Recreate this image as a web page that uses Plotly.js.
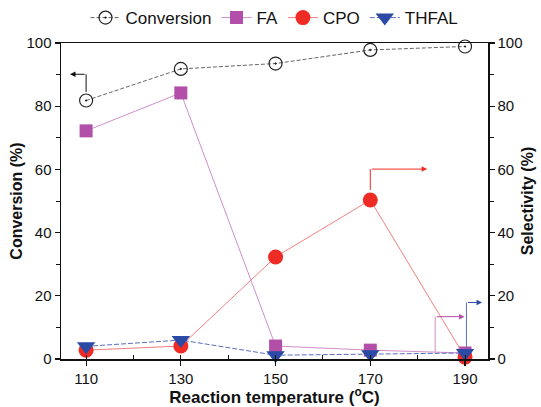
<!DOCTYPE html>
<html>
<head>
<meta charset="utf-8">
<script src="https://cdn.plot.ly/plotly-3.0.1.min.js"></script>
<style>html,body{margin:0;padding:0;background:#fff;}#chart{width:541px;height:407px;}</style>
</head>
<body>
<div id="chart"></div>
<script>
const temperature = [110, 130, 150, 170, 190];
const conversion = [81.8, 91.8, 93.5, 97.8, 98.9];
const selFA = [72.2, 84.2, 4.1, 2.8, 1.9];
const selCPO = [2.8, 4.1, 32.3, 50.3, 0.6];
const selTHFAL = [4.0, 6.0, 1.2, 1.5, 1.9];
const xTicks = [110, 130, 150, 170, 190];
const yTicks = [0, 20, 40, 60, 80, 100];

const font = 'Arial, "Liberation Sans", sans-serif';

const traces = [
  {x: temperature, y: conversion, name: 'Conversion', mode: 'lines+markers', yaxis: 'y',
   line: {color: '#666666', width: 1, dash: '4px,2px'},
   marker: {symbol: 'circle-open-dot', size: 13, color: '#222222', line: {width: 1.2}}, cliponaxis: false},
  {x: temperature, y: selFA, name: 'FA', mode: 'lines+markers', yaxis: 'y2',
   line: {color: '#cf8fcb', width: 1},
   marker: {symbol: 'square', size: 13, color: '#b24fa8'}, cliponaxis: false},
  {x: temperature, y: selCPO, name: 'CPO', mode: 'lines+markers', yaxis: 'y2',
   line: {color: '#f28080', width: 1},
   marker: {symbol: 'circle', size: 15, color: '#ee2b24'}, cliponaxis: false},
  {x: temperature, y: selTHFAL, name: 'THFAL', mode: 'lines+markers', yaxis: 'y2',
   line: {color: '#5a6fc0', width: 1, dash: '5px,2px'},
   marker: {symbol: 'triangle-down', size: 16, color: '#2a4aa6'}, cliponaxis: false}
];

function vline(x, y0, y1, color, yref) {
  return {type: 'line', xref: 'x', yref: yref, x0: x, x1: x, y0: y0, y1: y1, line: {color: color, width: 1}};
}
function harrow(x0, x1, y, color, yref) {
  return {x: x1, y: y, ax: x0, ay: y, xref: 'x', yref: yref, axref: 'x', ayref: yref,
          showarrow: true, arrowhead: 2, arrowsize: 1.1, arrowwidth: 1, arrowcolor: color, text: ''};
}

const layout = {
  width: 541, height: 407,
  margin: {l: 61, r: 53, t: 43, b: 48, autoexpand: false},
  paper_bgcolor: '#ffffff', plot_bgcolor: '#ffffff',
  font: {family: font, size: 15, color: '#111111'},
  showlegend: true,
  legend: {orientation: 'h', x: 0.5, xanchor: 'center', y: 1.136, yanchor: 'top',
           font: {family: font, size: 17, color: '#111'}, itemwidth: 30, tracegroupgap: 0, bgcolor: 'rgba(0,0,0,0)'},
  xaxis: {range: [104.7, 194.85], tickvals: xTicks, ticktext: xTicks.map(String),
          showline: true, linecolor: '#111', linewidth: 1.5, mirror: true,
          ticks: 'outside', ticklen: 5, tickwidth: 1.2, tickcolor: '#111',
          minor: {dtick: 10, ticks: 'inside', ticklen: 4, tickwidth: 1, tickcolor: '#111', showgrid: false},
          showgrid: false, zeroline: false,
          title: {text: '<b>Reaction temperature (<sup>o</sup>C)</b>', font: {size: 17, family: font}, standoff: 4}},
  yaxis: {range: [0, 100], tickvals: yTicks, showline: true, linecolor: '#111', linewidth: 1.5,
          ticks: 'outside', ticklen: 5, tickwidth: 1.2, tickcolor: '#111',
          minor: {dtick: 10, ticks: 'outside', ticklen: 4, tickwidth: 1, tickcolor: '#111', showgrid: false},
          showgrid: false, zeroline: false,
          title: {text: '<b>Conversion (%)</b>', font: {size: 16, family: font}, standoff: 0}},
  yaxis2: {range: [0, 100], tickvals: yTicks, overlaying: 'y', side: 'right', showline: true,
           linecolor: '#111', linewidth: 1.5,
           ticks: 'outside', ticklen: 5, tickwidth: 1.2, tickcolor: '#111',
           minor: {dtick: 10, ticks: 'outside', ticklen: 4, tickwidth: 1, tickcolor: '#111', showgrid: false},
           showgrid: false, zeroline: false,
           title: {text: '<b>Selectivity (%)</b>', font: {size: 16, family: font}, standoff: 0}},
  shapes: [
    vline(110, 84.5, 90.1, '#111', 'y'),
    vline(170, 53.5, 60.1, '#ee2b24', 'y2'),
    vline(183.7, 2.3, 13.4, '#cf8fcb', 'y2'),
    vline(190.3, 3.5, 17.9, '#5a6fc0', 'y2')
  ],
  annotations: [
    harrow(110, 106.6, 90.1, '#111', 'y'),
    harrow(170, 182, 60.1, '#ee2b24', 'y2'),
    harrow(183.7, 189.9, 13.4, '#b24fa8', 'y2'),
    harrow(190.3, 193.6, 17.9, '#2a4aa6', 'y2')
  ]
};

Plotly.newPlot('chart', traces, layout, {displayModeBar: false, staticPlot: true});
</script>
</body>
</html>
